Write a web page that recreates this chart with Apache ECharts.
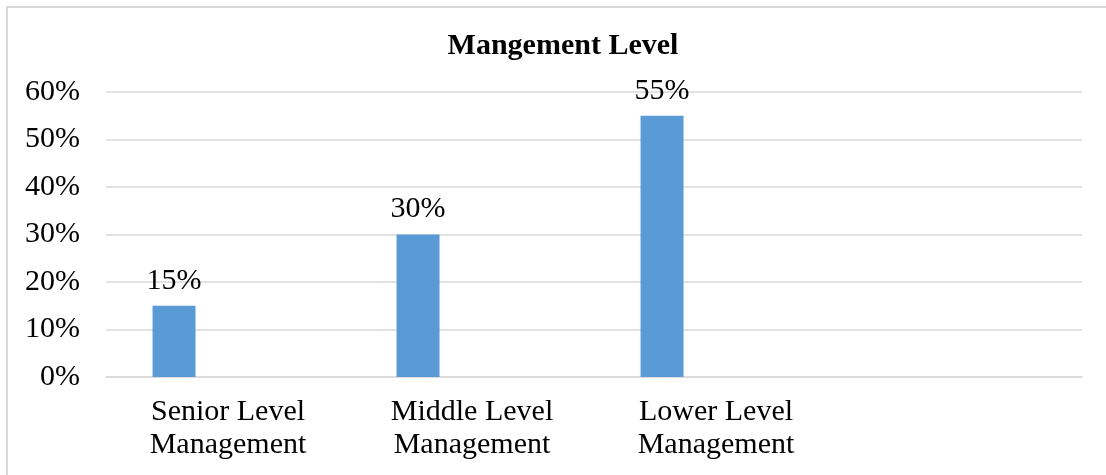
<!DOCTYPE html>
<html>
<head>
<meta charset="utf-8">
<script src="https://cdn.jsdelivr.net/npm/echarts@6/dist/echarts.min.js"></script>
<style>
html,body{margin:0;padding:0;background:#fff;}
#chart{width:1106px;height:475px;}
</style>
</head>
<body>
<div id="chart"></div>
<script>
const chartTitle = 'Mangement Level';
const categories = ['Senior Level\nManagement', 'Middle Level\nManagement', 'Lower Level\nManagement', ''];
const levelShare = [15, 30, 55, null];
const emptySeries = [null, null, null, null];
const yTicks = { min: 0, max: 60, interval: 10 };

const FONT = '"Liberation Serif", "Times New Roman", serif';
const chart = echarts.init(document.getElementById('chart'));
chart.setOption({
  backgroundColor: '#fff',
  animation: false,
  graphic: [{
    type: 'rect',
    shape: { x: 7, y: 7, width: 1120, height: 490 },
    style: { fill: 'none', stroke: '#d9d9d9', lineWidth: 2 },
    silent: true
  }],
  title: {
    text: chartTitle,
    left: 558, top: 26, textAlign: 'center',
    textStyle: { fontFamily: FONT, fontSize: 30, fontWeight: 'bold', color: '#000' }
  },
  grid: { left: 106, right: 24, top: 92, bottom: 98, containLabel: false },
  xAxis: {
    type: 'category',
    data: categories,
    axisLine: { show: true, lineStyle: { color: '#d9d9d9', width: 1.5 } },
    axisTick: { show: false },
    axisLabel: { fontFamily: FONT, fontSize: 30, color: '#000', lineHeight: 33, margin: 19, interval: 0 }
  },
  yAxis: {
    type: 'value',
    min: yTicks.min, max: yTicks.max, interval: yTicks.interval,
    axisLine: { show: false },
    axisTick: { show: false },
    splitLine: { lineStyle: { color: '#d9d9d9', width: 1.5 } },
    axisLabel: { formatter: '{value}%', fontFamily: FONT, fontSize: 30, color: '#000', margin: 26 }
  },
  series: [{
    type: 'bar',
    data: levelShare,
    barWidth: 43,
    barGap: '151%',
    itemStyle: { color: '#5B9BD5' },
    label: { show: true, position: 'top', distance: 10, formatter: '{c}%', fontFamily: FONT, fontSize: 30, color: '#000' }
  }, {
    type: 'bar',
    data: emptySeries,
    barWidth: 43,
    itemStyle: { color: '#ED7D31' }
  }]
});
</script>
</body>
</html>
